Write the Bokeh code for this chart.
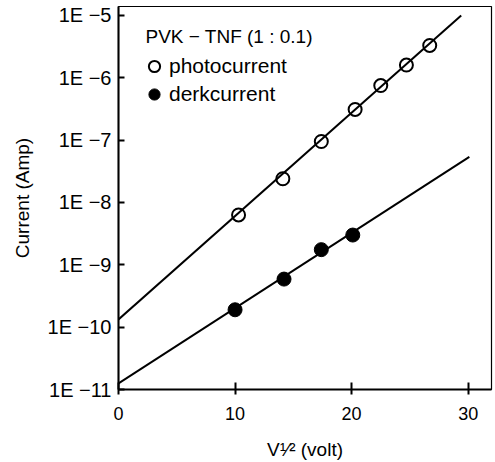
from bokeh.plotting import figure
from bokeh.models import (FixedTicker, CustomJSTickFormatter, Label, Legend,
                          LegendItem, Range1d)
from bokeh.embed import file_html
from bokeh.resources import INLINE

# ---- data ----
photo_x = [10.3, 14.1, 17.4, 20.3, 22.5, 24.7, 26.7]
photo_y = [6.3e-9, 2.4e-8, 9.5e-8, 3.1e-7, 7.5e-7, 1.6e-6, 3.3e-6]
dark_x = [10.0, 14.2, 17.4, 20.1]
dark_y = [1.9e-10, 5.9e-10, 1.75e-9, 3.0e-9]

photo_fit_x = [0.0, 29.4]
photo_fit_y = [1.33e-10, 1.0e-5]
dark_fit_x = [0.0, 30.1]
dark_fit_y = [1.25e-11, 5.4e-8]

x_ticks = [0, 10, 20, 30]
y_tick_values = [1e-11, 1e-10, 1e-9, 1e-8, 1e-7, 1e-6, 1e-5]

legend_title = "PVK \u2212 TNF (1 : 0.1)"
series_labels = ["photocurrent", "derkcurrent"]
x_label = "V\u00b9\u2044\u00b2 (volt)"
y_label = "Current (Amp)"

FONT = "Liberation Sans"

p = figure(width=495, height=462, y_axis_type="log",
           x_range=Range1d(0, 32), y_range=Range1d(1e-11, 1.39e-5),
           output_backend="svg", toolbar_location=None,
           min_border_left=118, min_border_right=4,
           min_border_top=6, min_border_bottom=72)
p.grid.visible = False
p.background_fill_color = "white"
p.border_fill_color = "white"
p.outline_line_color = "black"
p.outline_line_width = 1.2

l1 = p.line(photo_fit_x, photo_fit_y, line_color="black", line_width=2)
l2 = p.line(dark_fit_x, dark_fit_y, line_color="black", line_width=2)
r1 = p.scatter(photo_x, photo_y, marker="circle", size=13, fill_color=None,
               line_color="black", line_width=2)
r2 = p.scatter(dark_x, dark_y, marker="circle", size=14, fill_color="black",
               line_color="black", line_width=1)

# axes
xa = p.xaxis[0]
xa.ticker = FixedTicker(ticks=x_ticks, minor_ticks=[])
xa.axis_line_width = 2
xa.major_tick_line_width = 2
xa.major_tick_in = 7
xa.major_tick_out = 5
xa.minor_tick_line_color = None
xa.major_label_standoff = 12
xa.major_label_text_font = FONT
xa.major_label_text_font_size = "18px"
xa.major_label_text_color = "black"
xa.axis_label = x_label
xa.axis_label_text_font = FONT
xa.axis_label_text_font_style = "normal"
xa.axis_label_text_font_size = "19px"
xa.axis_label_text_color = "black"
xa.axis_label_standoff = 16

ya = p.yaxis[0]
ya.ticker = FixedTicker(ticks=y_tick_values, minor_ticks=[])
ya.formatter = CustomJSTickFormatter(
    code="return '1E \u2212' + Math.round(-Math.log10(tick));")
ya.axis_line_width = 2
ya.major_tick_line_width = 2
ya.major_tick_in = 6
ya.major_tick_out = 0
ya.minor_tick_line_color = None
ya.major_label_standoff = 7
ya.major_label_text_font = FONT
ya.major_label_text_font_size = "20px"
ya.major_label_text_color = "black"
ya.axis_label = y_label
ya.axis_label_text_font = FONT
ya.axis_label_text_font_style = "normal"
ya.axis_label_text_font_size = "19px"
ya.axis_label_text_color = "black"
ya.axis_label_standoff = 12

# legend title
p.add_layout(Label(x=27, y=353, x_units="screen", y_units="screen",
                   text=legend_title, text_align="left",
                   text_baseline="alphabetic", text_font=FONT,
                   text_font_size="19px", text_color="black"))

legend = Legend(items=[LegendItem(label=series_labels[0], renderers=[r1]),
                       LegendItem(label=series_labels[1], renderers=[r2])],
                location=(21, 281), glyph_width=30, glyph_height=28,
                label_standoff=-6, spacing=0, padding=0, margin=0,
                border_line_color=None, background_fill_alpha=0,
                label_text_font=FONT, label_text_font_size="21px",
                label_text_color="black")
p.add_layout(legend)

with open("out.html", "w", encoding="utf-8") as f:
    f.write(file_html(p, INLINE))
